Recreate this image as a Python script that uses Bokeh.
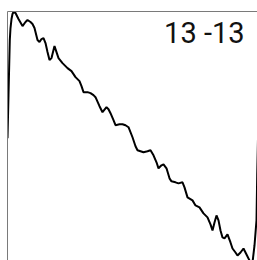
from bokeh.plotting import figure
from bokeh.models import Range1d, LinearAxis, Label, FixedTicker
from bokeh.embed import file_html
from bokeh.resources import INLINE

# Curve values
x_vals = [0, 0.4, 0.92, 1.2, 1.6, 2.0, 2.4, 3.2, 4.4, 6.0, 7.2, 8.0, 9.2, 10.0, 10.8,
          12.0, 12.8, 13.6, 14.4, 15.2, 16.0, 16.8, 17.6, 18.8, 19.6, 20.4, 22.0, 23.2,
          24.0, 25.6, 27.2, 28.8, 29.6, 30.4, 32.0, 33.2, 34.4, 35.2, 36.8, 38.0, 39.6,
          40.4, 41.2, 42.4, 43.2, 44.8, 46.0, 47.2, 48.4, 50.0, 51.2, 52.0, 53.2, 54.4,
          56.0, 57.2, 58.4, 59.6, 60.4, 61.6, 62.4, 63.6, 64.8, 65.6, 67.2, 68.4, 70.0,
          70.8, 72.0, 74.0, 75.2, 76.8, 78.4, 80.0, 81.2, 82.0, 82.8, 83.6, 84.4, 85.2,
          86.0, 86.8, 88.0, 89.2, 90.0, 91.2, 92.0, 93.2, 94.4, 95.6, 96.8, 97.6, 98.0,
          98.8, 99.6, 99.88, 100.2]
y_vals = [0, 4.3, 9.8, 11.0, 11.9, 12.4, 12.6, 12.5, 11.9, 11.2, 11.6, 11.8, 11.6, 11.4, 11.0,
          9.8, 9.6, 9.9, 10.0, 9.5, 8.6, 7.8, 8.0, 9.2, 8.6, 8.0, 7.5, 7.2,
          7.0, 6.7, 6.1, 5.7, 5.2, 4.6, 4.6, 4.5, 4.3, 4.1, 3.2, 2.6, 3.1,
          2.9, 2.5, 1.8, 1.3, 1.4, 1.4, 1.3, 1.1, 0.1, -0.8, -1.2, -1.3, -1.4,
          -1.3, -1.2, -1.7, -2.4, -3.0, -2.7, -2.6, -3.0, -4.0, -4.3, -4.4, -4.5, -4.4,
          -4.9, -5.9, -6.2, -6.7, -6.9, -7.5, -7.9, -8.6, -9.2, -8.4, -7.7, -8.2, -9.2,
          -9.9, -10.0, -9.6, -10.4, -11.0, -11.4, -11.7, -11.4, -11.0, -11.6, -12.2, -12.6, -12.4,
          -10.7, -8.2, -3.7, 0]
label_text = "13 -13"

p = figure(width=257, height=260, output_backend="svg", toolbar_location=None,
           x_axis_location=None, y_axis_location=None,
           x_range=Range1d(0, 100), y_range=Range1d(-12.2, 12.65),
           min_border=0, min_border_left=7, min_border_top=11)
p.outline_line_color = None
p.grid.grid_line_color = None
p.background_fill_color = "white"
p.border_fill_color = "white"

for loc in ("left", "above"):
    ax = LinearAxis(ticker=FixedTicker(ticks=[]), axis_line_color="#7a7a7a", axis_line_width=1,
                    major_tick_line_color=None, minor_tick_line_color=None,
                    major_tick_out=0, major_tick_in=0, minor_tick_out=0, minor_tick_in=0,
                    major_label_text_font_size="0px", major_label_standoff=0)
    p.add_layout(ax, loc)

p.line(x_vals, y_vals, line_color="black", line_width=2)

p.add_layout(Label(x=237, y=228, x_units="screen", y_units="screen", text=label_text,
                   text_font="Roboto", text_font_size="29px", text_color="#111111",
                   text_align="right", text_baseline="alphabetic"))

open("out.html", "w").write(file_html(p, INLINE))
